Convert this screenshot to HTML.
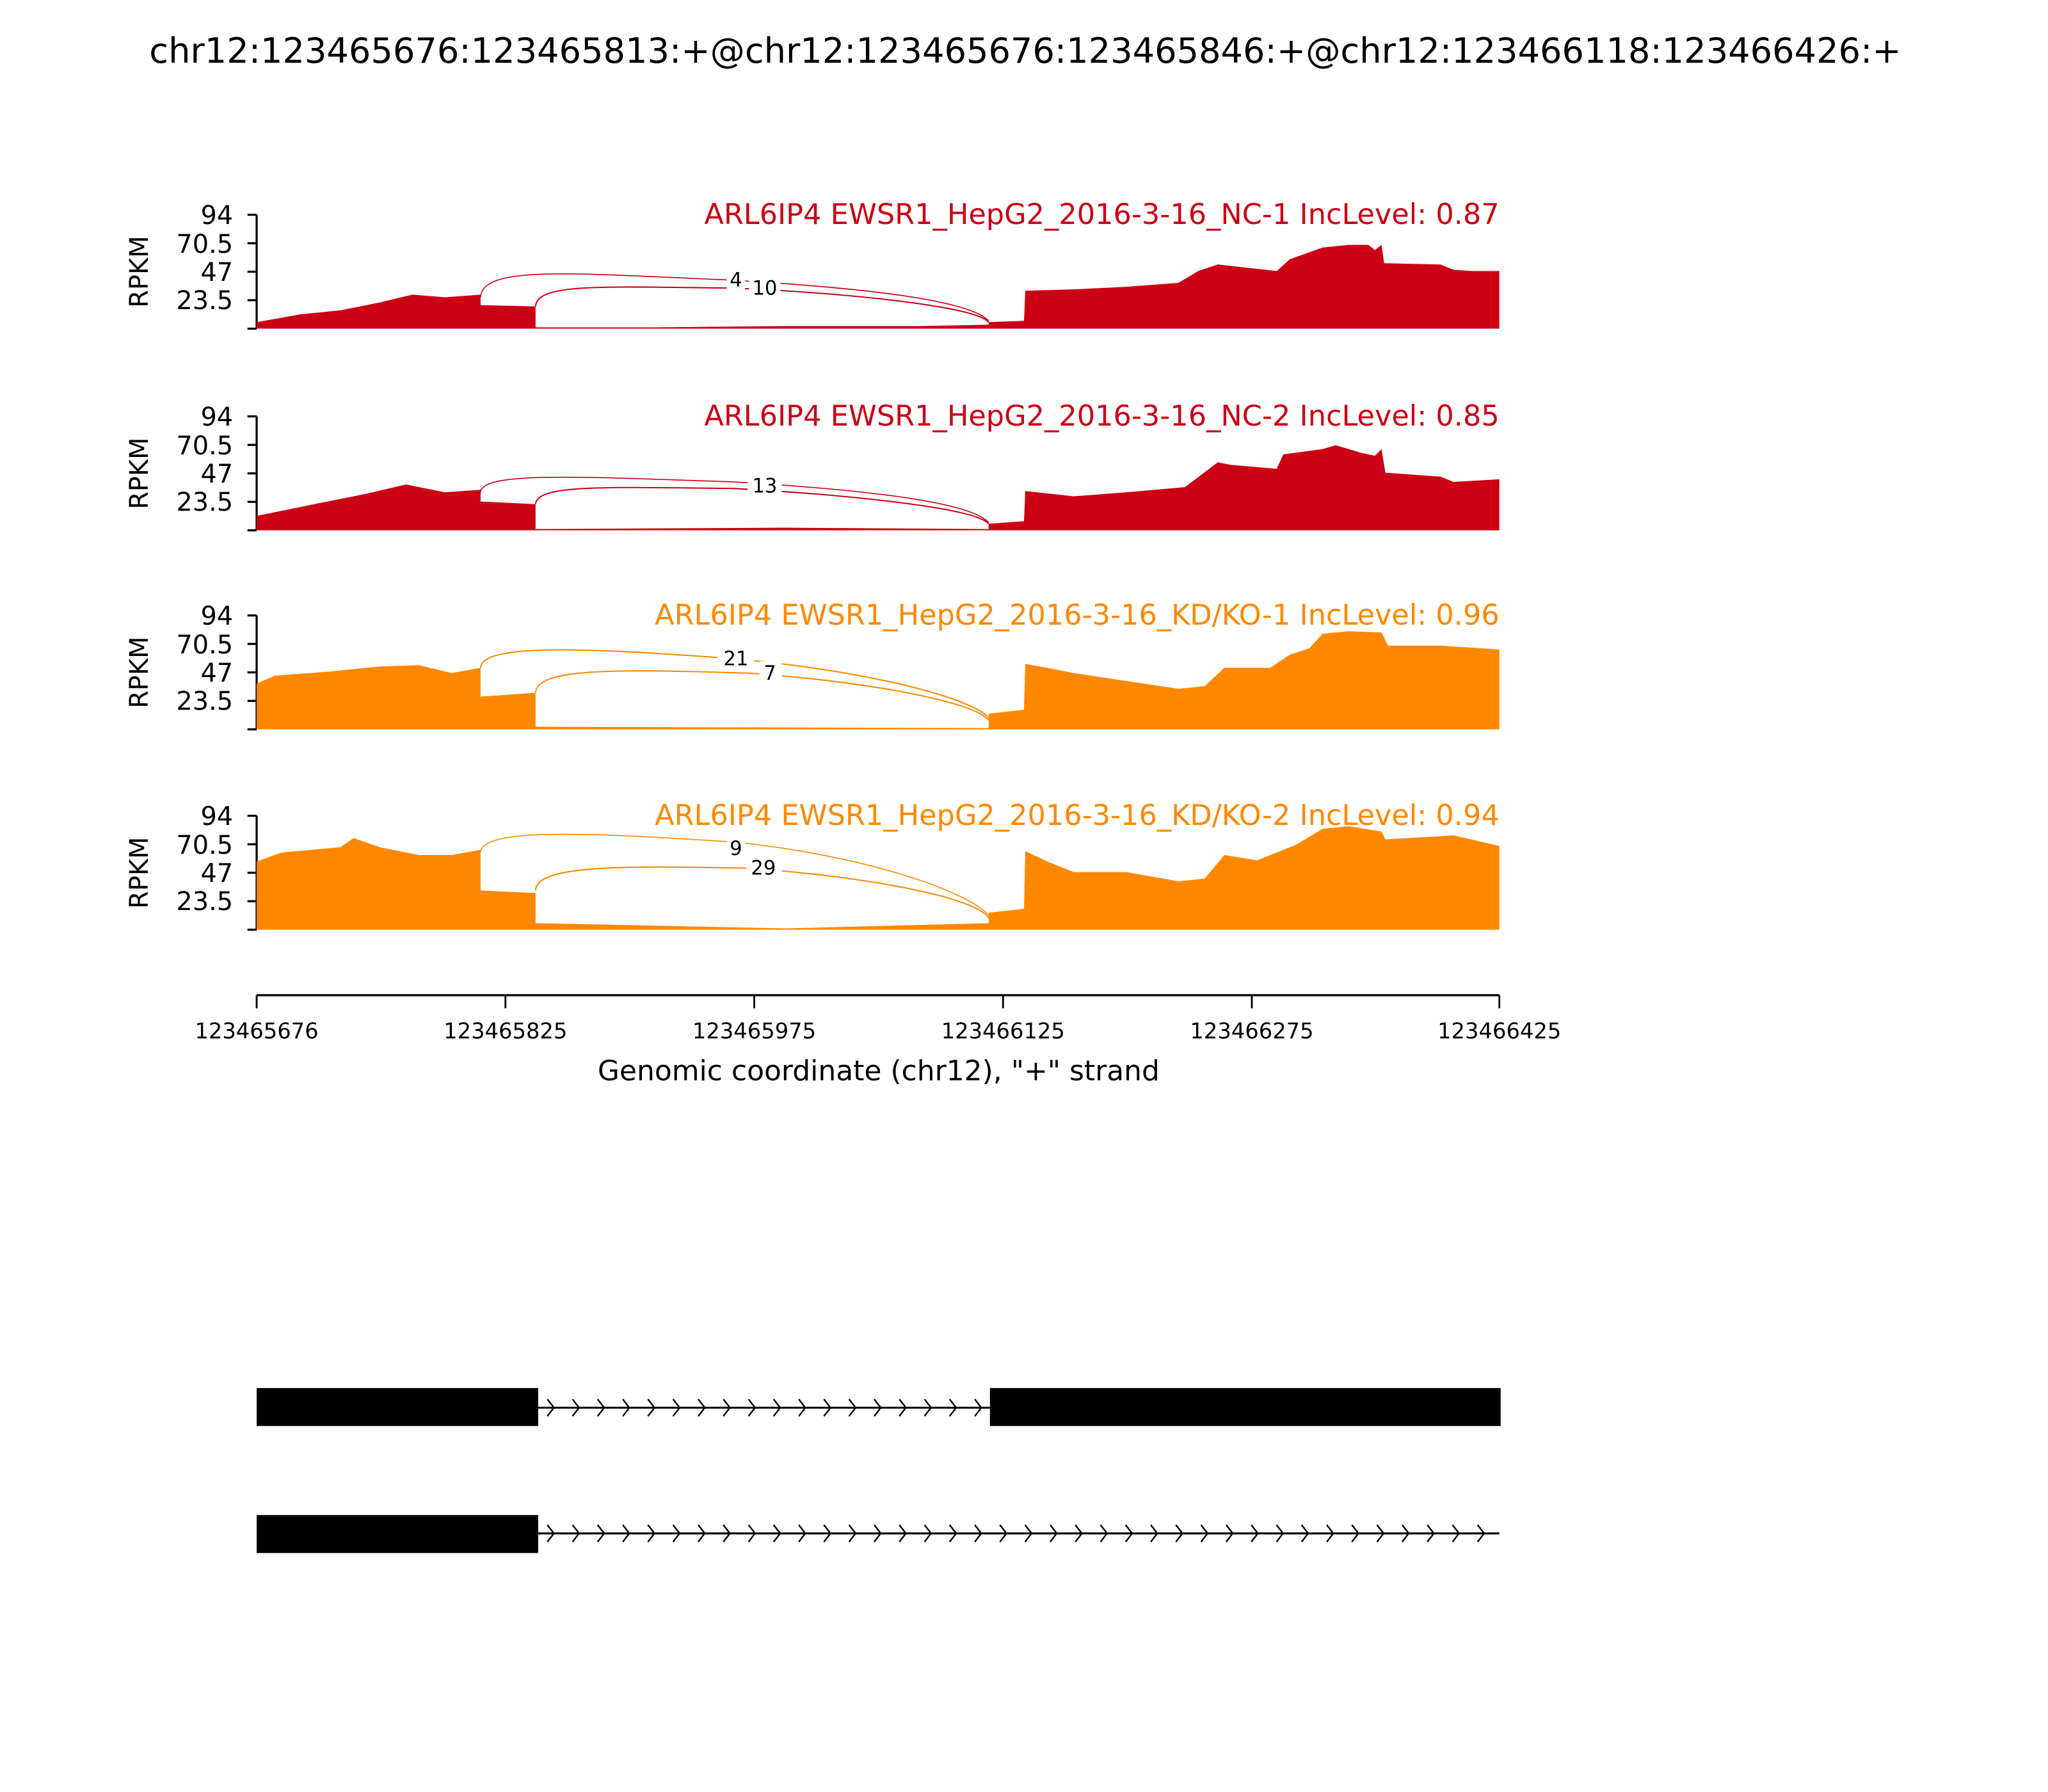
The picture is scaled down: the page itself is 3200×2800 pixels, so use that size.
<!DOCTYPE html>
<html><head><meta charset="utf-8"><style>html,body{margin:0;padding:0;background:#fff}svg{display:block}</style></head>
<body>
<svg width="3200" height="2800" viewBox="0 0 1564 1368.5" xmlns="http://www.w3.org/2000/svg" font-family="'DejaVu Sans','Liberation Sans',sans-serif">
<defs>
<g id="axes">
<line x1="196" y1="0" x2="196" y2="87" stroke="#000" stroke-width="1.6"/>
<g stroke="#000" stroke-width="1.6">
<line x1="189" y1="0" x2="196" y2="0"/><line x1="189" y1="21.75" x2="196" y2="21.75"/><line x1="189" y1="43.5" x2="196" y2="43.5"/><line x1="189" y1="65.25" x2="196" y2="65.25"/><line x1="189" y1="87" x2="196" y2="87"/>
</g>
<g font-size="19.5" text-anchor="end">
<text x="178" y="7">94</text><text x="178" y="29">70.5</text><text x="178" y="50.5">47</text><text x="178" y="72">23.5</text>
</g>
<text transform="translate(113,43.5) rotate(-90)" font-size="19.5" text-anchor="middle">RPKM</text>
</g>
<path id="ch" d="M0 -6.5 l5 6.5 l-5 6.5" fill="none" stroke="#000" stroke-width="1.2"/>
</defs>

<text x="783" y="48" font-size="26.5" text-anchor="middle">chr12:123465676:123465813:+@chr12:123465676:123465846:+@chr12:123466118:123466426:+</text>

<!-- Panel 1 -->
<g transform="translate(0,164)">
<use href="#axes"/>
<polygon fill="#cc0015" points="196,87 196,82 230,76 260,73 290,67 315,61 340,63 367,61 367,69 409,70 409,86 500,86 600,85 700,85 755,84 755,82 782,81 783,58 820,57 860,55 900,52 915,43 930,38 975,43 985,34 1010,25 1030,23 1045,23 1050,27 1055,23 1057,37 1100,38 1110,42 1125,43 1145,43 1145,87"/>
<path d="M367 63 C368 38,440 45,560 50 C660 56,740 65,755 81" fill="none" stroke="#cc0015" stroke-width="0.8"/>
<path d="M409 70 C410 52,460 55,560 56 C650 60,745 70,755 82" fill="none" stroke="#cc0015" stroke-width="1"/>
<rect x="555" y="41" width="14" height="16" fill="#fff"/><text x="562" y="55" font-size="15" text-anchor="middle">4</text>
<rect x="572" y="47" width="24" height="16" fill="#fff"/><text x="584" y="61" font-size="15" text-anchor="middle">10</text>
<text x="1145" y="7" font-size="21.8" text-anchor="end" fill="#cc0015">ARL6IP4 EWSR1_HepG2_2016-3-16_NC-1 IncLevel: 0.87</text>
</g>

<!-- Panel 2 -->
<g transform="translate(0,318)">
<use href="#axes"/>
<polygon fill="#cc0015" points="196,87 196,76 240,67 280,59 310,52 340,58 367,56 367,65 409,67 409,86 600,85 755,86 755,82 782,80 783,57 820,61 860,58 905,54 930,35 940,37 975,40 980,29 1010,25 1020,22 1040,28 1050,30 1055,25 1058,43 1100,46 1110,50 1145,48 1145,87"/>
<path d="M367 58 C368 42,440 46,560 50 C660 56,740 65,755 81" fill="none" stroke="#cc0015" stroke-width="0.8"/>
<path d="M409 67 C410 52,460 54,560 55 C650 60,745 70,755 82" fill="none" stroke="#cc0015" stroke-width="1"/>
<rect x="571" y="44" width="26" height="16" fill="#fff"/><text x="584" y="58" font-size="15" text-anchor="middle">13</text>
<text x="1145" y="7" font-size="21.8" text-anchor="end" fill="#cc0015">ARL6IP4 EWSR1_HepG2_2016-3-16_NC-2 IncLevel: 0.85</text>
</g>

<!-- Panel 3 -->
<g transform="translate(0,470)">
<use href="#axes"/>
<polygon fill="#ff8800" points="196,87 196,52 210,46 250,43 290,39 320,38 345,44 367,40 367,62 409,59 409,85 755,86 755,75 782,72 783,37 800,40 820,44 860,50 900,56 920,54 935,40 970,40 985,30 1000,25 1010,14 1030,12 1055,13 1060,23 1100,23 1145,26 1145,87"/>
<path d="M367 40 C368 22,440 24,560 33 C660 42,740 62,755 78" fill="none" stroke="#ff8800" stroke-width="1"/>
<path d="M409 59 C410 40,470 41,570 44 C660 50,745 66,755 80" fill="none" stroke="#ff8800" stroke-width="1"/>
<rect x="548" y="24" width="28" height="16" fill="#fff"/><text x="562" y="38" font-size="15" text-anchor="middle">21</text>
<rect x="580" y="35" width="17" height="16" fill="#fff"/><text x="588" y="49" font-size="15" text-anchor="middle">7</text>
<text x="1145" y="7" font-size="21.8" text-anchor="end" fill="#ff8800">ARL6IP4 EWSR1_HepG2_2016-3-16_KD/KO-1 IncLevel: 0.96</text>
</g>

<!-- Panel 4 -->
<g transform="translate(0,623)">
<use href="#axes"/>
<polygon fill="#ff8800" points="196,87 196,35 215,28 260,24 270,17 290,24 320,30 345,30 367,26 367,57 409,59 409,82 600,86 755,82 755,74 782,71 783,27 800,35 820,43 860,43 900,50 920,48 935,30 960,34 990,22 1010,10 1030,8 1055,12 1058,18 1110,15 1145,23 1145,87"/>
<path d="M367 28 C368 10,440 12,560 20 C660 30,740 58,755 76" fill="none" stroke="#ff8800" stroke-width="0.8"/>
<path d="M409 57 C410 38,470 38,570 40 C660 46,745 62,755 78" fill="none" stroke="#ff8800" stroke-width="1"/>
<rect x="555" y="16" width="14" height="16" fill="#fff"/><text x="562" y="30" font-size="15" text-anchor="middle">9</text>
<rect x="570" y="31" width="27" height="16" fill="#fff"/><text x="583" y="45" font-size="15" text-anchor="middle">29</text>
<text x="1145" y="7" font-size="21.8" text-anchor="end" fill="#ff8800">ARL6IP4 EWSR1_HepG2_2016-3-16_KD/KO-2 IncLevel: 0.94</text>
</g>

<!-- x axis -->
<line x1="196" y1="760" x2="1145" y2="760" stroke="#000" stroke-width="1.6"/>
<g stroke="#000" stroke-width="1.4">
<line x1="196" y1="760" x2="196" y2="770"/><line x1="386" y1="760" x2="386" y2="770"/><line x1="576" y1="760" x2="576" y2="770"/><line x1="766" y1="760" x2="766" y2="770"/><line x1="956" y1="760" x2="956" y2="770"/><line x1="1145" y1="760" x2="1145" y2="770"/>
</g>
<g font-size="16.5" text-anchor="middle">
<text x="196" y="793">123465676</text><text x="386" y="793">123465825</text><text x="576" y="793">123465975</text><text x="766" y="793">123466125</text><text x="956" y="793">123466275</text><text x="1145" y="793">123466425</text>
</g>
<text x="671" y="825" font-size="21.5" text-anchor="middle">Genomic coordinate (chr12), "+" strand</text>

<!-- gene models -->
<line x1="411" y1="1075" x2="756" y2="1075" stroke="#000" stroke-width="1.5"/>
<g transform="translate(418,1075)">
<use href="#ch" x="0"/><use href="#ch" x="19.2"/><use href="#ch" x="38.4"/><use href="#ch" x="57.6"/><use href="#ch" x="76.8"/><use href="#ch" x="96"/><use href="#ch" x="115.2"/><use href="#ch" x="134.4"/><use href="#ch" x="153.6"/><use href="#ch" x="172.8"/><use href="#ch" x="192"/><use href="#ch" x="211.2"/><use href="#ch" x="230.4"/><use href="#ch" x="249.6"/><use href="#ch" x="268.8"/><use href="#ch" x="288"/><use href="#ch" x="307.2"/><use href="#ch" x="326.4"/>
</g>
<rect x="196" y="1060" width="215" height="29" fill="#000"/>
<rect x="756" y="1060" width="390" height="29" fill="#000"/>

<line x1="411" y1="1171" x2="1145" y2="1171" stroke="#000" stroke-width="1.5"/>
<g transform="translate(418,1171)">
<use href="#ch" x="0"/><use href="#ch" x="19.2"/><use href="#ch" x="38.4"/><use href="#ch" x="57.6"/><use href="#ch" x="76.8"/><use href="#ch" x="96"/><use href="#ch" x="115.2"/><use href="#ch" x="134.4"/><use href="#ch" x="153.6"/><use href="#ch" x="172.8"/><use href="#ch" x="192"/><use href="#ch" x="211.2"/><use href="#ch" x="230.4"/><use href="#ch" x="249.6"/><use href="#ch" x="268.8"/><use href="#ch" x="288"/><use href="#ch" x="307.2"/><use href="#ch" x="326.4"/><use href="#ch" x="345.6"/><use href="#ch" x="364.8"/><use href="#ch" x="384"/><use href="#ch" x="403.2"/><use href="#ch" x="422.4"/><use href="#ch" x="441.6"/><use href="#ch" x="460.8"/><use href="#ch" x="480"/><use href="#ch" x="499.2"/><use href="#ch" x="518.4"/><use href="#ch" x="537.6"/><use href="#ch" x="556.8"/><use href="#ch" x="576"/><use href="#ch" x="595.2"/><use href="#ch" x="614.4"/><use href="#ch" x="633.6"/><use href="#ch" x="652.8"/><use href="#ch" x="672"/><use href="#ch" x="691.2"/><use href="#ch" x="710.4"/>
</g>
<rect x="196" y="1157" width="215" height="29" fill="#000"/>
</svg>
</body></html>
